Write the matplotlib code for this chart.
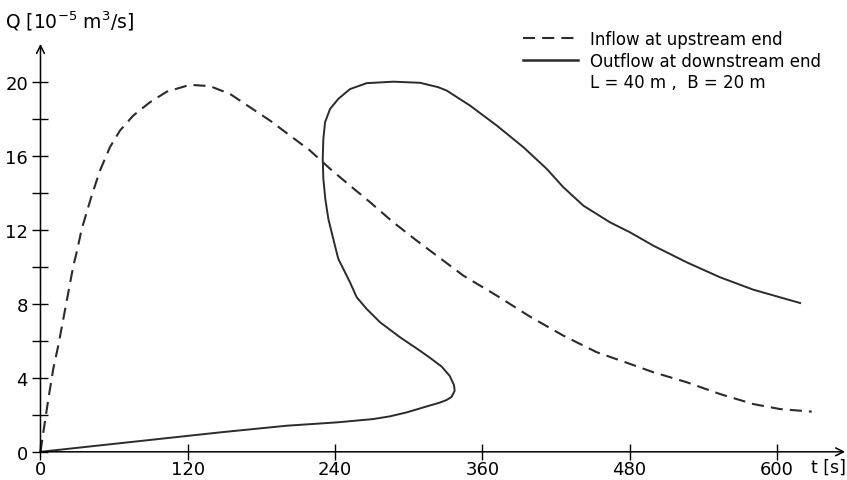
import matplotlib
matplotlib.use("Agg")
import matplotlib.pyplot as plt
from matplotlib.lines import Line2D

# Inflow at upstream end (dashed)
inflow_t = [0, 2.3, 6.4, 10.4, 14.5, 18.6, 22.7, 26.8, 29.5, 33.6, 41.7, 48.5,
            56.6, 64.8, 75.6, 89.2, 102.9, 121.8, 138, 154.4, 170.7, 187,
            203.3, 219.6, 236, 252.3, 268.5, 287.5, 306.6, 322.9, 344.6,
            371.8, 399, 426, 453.3, 480.4, 499.4, 526.6, 553.8, 580.9, 602.7, 628.5]
inflow_q = [0, 1.05, 2.85, 4.48, 5.74, 7.18, 8.62, 10.06, 10.78, 12.04, 13.84, 15.2,
            16.46, 17.36, 18.17, 18.89, 19.46, 19.83, 19.76, 19.34, 18.62, 17.9,
            17.09, 16.28, 15.29, 14.38, 13.49, 12.4, 11.41, 10.6, 9.52,
            8.44, 7.3, 6.28, 5.38, 4.75, 4.3, 3.76, 3.12, 2.58, 2.31, 2.17]

# Outflow at downstream end (solid), the curve folds back on itself
outflow_t = [0, 146.3, 200.6, 241.4, 271.2, 285, 298.4, 312, 325, 331, 335,
             337.5, 337, 333.5, 327, 318, 309.3, 293, 276.7, 265.8, 257.7,
             252.2, 246.8, 242.7, 238.6, 234.6, 232.1, 230.5, 230, 230.5,
             231.9, 236, 242.7, 252.2, 265.8, 287.5, 309.3, 324.2, 331,
             350, 371.8, 393.5, 412.5, 426, 442.4, 464.1, 480.4, 499.4, 526.6,
             553.8, 580.9, 619]
outflow_q = [0, 1.05, 1.41, 1.59, 1.77, 1.92, 2.13, 2.4, 2.65, 2.8, 2.97,
             3.3, 3.6, 4.1, 4.6, 5.05, 5.46, 6.19, 7.0, 7.72, 8.35,
             9.16, 9.88, 10.42, 11.5, 12.58, 13.66, 14.75, 15.83, 16.9,
             17.81, 18.53, 19.07, 19.6, 19.92, 20.0, 19.94, 19.7, 19.52,
             18.71, 17.63, 16.46, 15.29, 14.3, 13.3, 12.4, 11.86, 11.14, 10.24,
             9.43, 8.76, 8.04]

x_ticks = [0, 120, 240, 360, 480, 600]
y_ticks = [0, 4, 8, 12, 16, 20]
y_minor = [2, 6, 10, 14, 18]

labels = ["Inflow at upstream end", "Outflow at downstream end",
          "L = 40 m ,  B = 20 m"]

line_col = "#2b2b2b"

fig = plt.figure(figsize=(8.47, 4.81), dpi=100)
ax = fig.add_axes([0.0478, 0.0586, 0.95, 0.848])
ax.set_xlim(0, 655.7)
ax.set_ylim(0, 22.04)

ax.plot(inflow_t, inflow_q, color=line_col, lw=1.5, dashes=(5.8, 3.4), clip_on=False)
ax.plot(outflow_t, outflow_q, color=line_col, lw=1.4, clip_on=False)

for s in ax.spines.values():
    s.set_visible(False)

# axes drawn as arrows
arrow = dict(arrowstyle="->", lw=1.1, color="black", shrinkA=0, shrinkB=0,
             mutation_scale=14)
ax.annotate("", xy=(1.0, 0), xytext=(0, 0), xycoords="axes fraction", arrowprops=arrow)
ax.annotate("", xy=(0, 1.0), xytext=(0, 0), xycoords="axes fraction", arrowprops=arrow)

ax.set_xticks(x_ticks)
ax.set_yticks(y_ticks)
ax.set_yticks(y_minor, minor=True)
ax.tick_params(which="both", direction="inout", length=12, width=1.0,
               labelsize=13, pad=3, colors="black")
ax.tick_params(axis="x", pad=0)

ax.text(0.958, -0.036, "t [s]", transform=ax.transAxes, fontsize=12.5,
        ha="left", va="center")
fig.text(5 / 847, 1 - 21 / 481, r"Q [$10^{-5}$ m$^3$/s]", fontsize=13.5,
         ha="left", va="center")

handles = [Line2D([], [], color=line_col, lw=1.5, dashes=(5.8, 3.4)),
           Line2D([], [], color=line_col, lw=1.8),
           Line2D([], [], color="none")]
ax.legend(handles, labels, loc="upper left", bbox_to_anchor=(523 / 847, 1 - 31 / 481),
          bbox_transform=fig.transFigure, frameon=False, fontsize=12,
          handlelength=3.3, handletextpad=0.7, labelspacing=0.22,
          borderpad=0, borderaxespad=0)

fig.savefig("out.png", dpi=100)
